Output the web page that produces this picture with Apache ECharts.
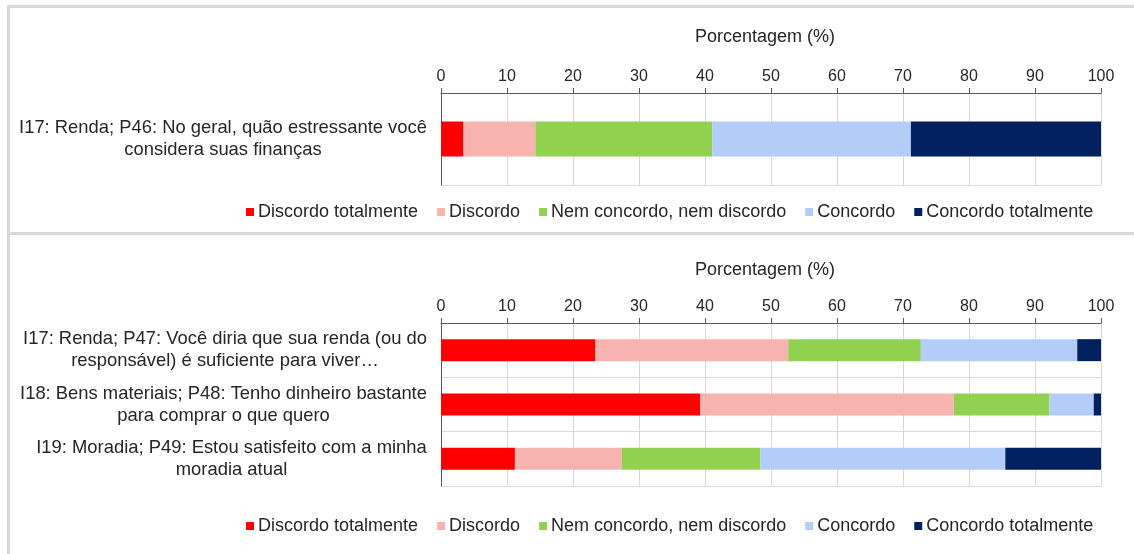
<!DOCTYPE html>
<html>
<head>
<meta charset="utf-8">
<script src="https://cdn.jsdelivr.net/npm/echarts@6/dist/echarts.min.js"></script>
<style>
  body { margin: 0; background: #fff; }
  .frame { position: absolute; background: #d9d9d9; }
  #chart { position: absolute; left: 0; top: 0; width: 1134px; height: 554px; }
</style>
</head>
<body>
<div class="frame" style="left:7px;top:5px;width:1127px;height:3px"></div>
<div class="frame" style="left:7px;top:5px;width:3px;height:549px"></div>
<div class="frame" style="left:7px;top:232px;width:1127px;height:3px"></div>
<div id="chart"></div>
<script>
// legend / series names
const answerNames = ['Discordo totalmente', 'Discordo', 'Nem concordo, nem discordo', 'Concordo', 'Concordo totalmente']
const answerColors = ['#ff0000', '#f7b3af', '#92d050', '#b4cdf8', '#002060']

// top panel
const topCategories = ['I17: Renda; P46: No geral, quão estressante você\nconsidera suas finanças']
const topDiscTot = [3.4]
const topDisc = [10.9]
const topNem = [26.8]
const topConc = [30.1]
const topConcTot = [28.8]

// bottom panel
const bottomCategories = [
  'I17: Renda; P47: Você diria que sua renda (ou do\nresponsável) é suficiente para viver…',
  'I18: Bens materiais; P48: Tenho dinheiro bastante\npara comprar o que quero',
  'I19: Moradia; P49: Estou satisfeito com a minha\nmoradia atual'
]
const bottomDiscTot = [23.4, 39.3, 11.2]
const bottomDisc = [29.2, 38.4, 16.2]
const bottomNem = [20.1, 14.5, 21.0]
const bottomConc = [23.7, 6.7, 37.1]
const bottomConcTot = [3.6, 1.1, 14.5]

const xMin = 0, xMax = 100, xStep = 10
const axisTitle = 'Porcentagem (%)'

const FONT = '"Liberation Sans", Arial, sans-serif'
const textColor = '#262626'
const labelSize = 18.4

// each category label: lines centred inside a block as wide as its longest line
const ctx = document.createElement('canvas').getContext('2d')
ctx.font = labelSize + 'px ' + FONT
const rich = {}
function makeLabels(cats, prefix) {
  const map = {}
  cats.forEach((c, i) => {
    const key = prefix + i
    const w = Math.ceil(Math.max(...c.split('\n').map(l => ctx.measureText(l).width)))
    rich[key] = {width: w, align: 'center', fontSize: labelSize, lineHeight: 22, color: textColor, fontFamily: FONT}
    map[c] = c.split('\n').map(l => '{' + key + '|' + l + '}').join('\n')
  })
  return map
}
const topMap = makeLabels(topCategories, 't')
const bottomMap = makeLabels(bottomCategories, 'b')

function xAxis(gridIndex, nameGap) {
  return {
    type: 'value', gridIndex: gridIndex, position: 'top',
    min: xMin, max: xMax, interval: xStep,
    name: axisTitle, nameLocation: 'middle', nameGap: nameGap,
    nameTextStyle: {fontSize: 18, color: textColor, fontFamily: FONT, padding: [0, 12, 0, 0]},
    axisLine: {show: true, lineStyle: {color: '#595959', width: 1}},
    axisTick: {show: true, length: 5, lineStyle: {color: '#595959'}},
    axisLabel: {fontSize: 16, color: textColor, fontFamily: FONT, margin: 8},
    splitLine: {show: true, lineStyle: {color: '#d9d9d9'}}
  }
}

function yAxis(gridIndex, cats, map) {
  return {
    type: 'category', gridIndex: gridIndex, inverse: true, data: cats,
    axisLine: {show: true, lineStyle: {color: '#595959'}},
    axisTick: {show: false},
    axisLabel: {margin: 14, formatter: v => map[v], rich: rich},
    splitLine: {show: true, lineStyle: {color: '#d9d9d9'}}
  }
}

function legend(top) {
  return {
    left: 241, top: top, itemWidth: 8, itemHeight: 8, itemGap: 19,
    icon: 'rect', data: answerNames,
    textStyle: {fontSize: 18, color: textColor, fontFamily: FONT, padding: [0, 0, 0, -1]}
  }
}

const topData = [topDiscTot, topDisc, topNem, topConc, topConcTot]
const bottomData = [bottomDiscTot, bottomDisc, bottomNem, bottomConc, bottomConcTot]

const series = []
answerNames.forEach((name, i) => {
  series.push({name: name, type: 'bar', stack: 'top', xAxisIndex: 0, yAxisIndex: 0,
    barWidth: 35, data: topData[i], itemStyle: {color: answerColors[i]}})
})
answerNames.forEach((name, i) => {
  series.push({name: name, type: 'bar', stack: 'bottom', xAxisIndex: 1, yAxisIndex: 1,
    barWidth: 22, data: bottomData[i], itemStyle: {color: answerColors[i]}})
})

const option = {
  animation: false,
  textStyle: {fontFamily: FONT},
  legend: [legend(198), legend(512)],
  grid: [
    {left: 441, top: 93, width: 660, height: 92},
    {left: 441, top: 323, width: 660, height: 163}
  ],
  xAxis: [xAxis(0, 47), xAxis(1, 44)],
  yAxis: [yAxis(0, topCategories, topMap), yAxis(1, bottomCategories, bottomMap)],
  series: series
}

const myChart = echarts.init(document.getElementById('chart'))
myChart.setOption(option)
</script>
</body>
</html>
